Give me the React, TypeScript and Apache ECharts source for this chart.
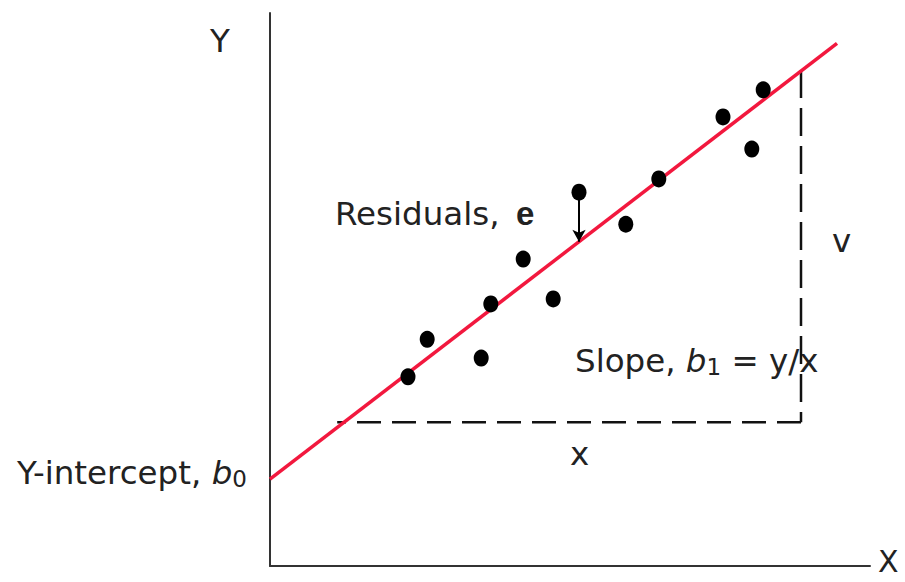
import React, { useEffect, useRef } from "react";
import * as echarts from "echarts";

// Observations (x, y) in plot units
const pointX = [2.3, 2.62, 3.52, 3.68, 4.22, 4.72, 5.15, 5.93, 6.48, 7.55, 8.03, 8.22];
const pointY = [3.42, 4.1, 3.76, 4.74, 5.55, 4.83, 6.76, 6.18, 7.0, 8.12, 7.54, 8.61];

// Fitted regression line endpoints
const fitLine: [number, number][] = [
  [0, 1.57],
  [9.45, 9.45],
];

// Run (x) and rise (y) legs of the slope triangle
const runLeg: [number, number][] = [
  [8.85, 2.6],
  [1.12, 2.6],
];
const riseLeg: [number, number][] = [
  [8.85, 8.97],
  [8.85, 2.6],
];

// Point whose residual is marked with an arrow
const residualIndex = 6;

const FONT = "'DejaVu Sans', Verdana, sans-serif";
const INK = "#222";
const SIZE = 32.5;

function fitAt(x: number): number {
  const [[x0, y0], [x1, y1]] = fitLine;
  return y0 + ((y1 - y0) * (x - x0)) / (x1 - x0);
}

export default function App() {
  const ref = useRef<HTMLDivElement>(null);

  useEffect(() => {
    if (!ref.current) return;
    const chart = echarts.init(ref.current, null, { renderer: "svg" });
    const points = pointX.map((x, i) => [x, pointY[i]]);
    const rx = pointX[residualIndex];
    const ry = pointY[residualIndex];

    const axisCommon = {
      type: "value" as const,
      min: 0,
      max: 10,
      axisLine: { show: true, lineStyle: { color: "#333", width: 2 } },
      axisTick: { show: false },
      axisLabel: { show: false },
      splitLine: { show: false },
    };

    const textStyle = (extra: any = {}) => ({
      fontFamily: FONT,
      fontSize: SIZE,
      fill: INK,
      ...extra,
    });

    const subRich = {
      b: { fontFamily: FONT, fontSize: SIZE, fontStyle: "italic", fill: INK },
      s: { fontFamily: FONT, fontSize: 23, fill: INK, padding: [13, 0, 0, 0] },
    };

    chart.setOption({
      animation: false,
      backgroundColor: "#fff",
      grid: { left: 270, right: 35, top: 13, bottom: 16 },
      xAxis: axisCommon,
      yAxis: axisCommon,
      series: [
        {
          type: "line",
          data: runLeg,
          symbol: "none",
          lineStyle: { color: "#111", width: 2.5, type: [24, 11] },
          z: 1,
        },
        {
          type: "line",
          data: riseLeg,
          symbol: "none",
          lineStyle: { color: "#111", width: 2.5, type: [28, 10] },
          z: 1,
        },
        {
          type: "line",
          data: fitLine,
          symbol: "none",
          lineStyle: { color: "#f2183e", width: 3.5 },
          z: 2,
        },
        {
          type: "scatter",
          data: points,
          symbol: "circle",
          symbolSize: [15, 17],
          itemStyle: { color: "#000", opacity: 1 },
          z: 3,
          markLine: {
            silent: true,
            symbol: ["none", "arrow"],
            symbolSize: [10, 12],
            label: { show: false },
            lineStyle: { color: "#000", width: 2, type: "solid", opacity: 1 },
            data: [[{ coord: [rx, ry] }, { coord: [rx, fitAt(rx)] }]],
          },
        },
      ],
      graphic: [
        {
          type: "text",
          left: 210,
          top: 24,
          style: textStyle({ text: "Y" }),
        },
        {
          type: "text",
          left: 878,
          top: 546,
          style: textStyle({ text: "X", fontSize: 30 }),
        },
        {
          type: "text",
          left: 17,
          top: 456,
          style: textStyle({
            text: "Y-intercept, {b|b}{s|0}",
            rich: subRich,
          }),
        },
        {
          type: "text",
          left: 335,
          top: 197,
          style: textStyle({ text: "Residuals," }),
        },
        {
          type: "text",
          left: 516,
          top: 197,
          style: {
            text: "e",
            fontFamily: "'Liberation Sans', Arial, sans-serif",
            fontWeight: "bold",
            fontSize: 33,
            fill: INK,
          },
        },
        {
          type: "text",
          left: 575,
          top: 344,
          style: textStyle({
            text: "Slope, {b|b}{s|1} = y/x",
            rich: subRich,
          }),
        },
        {
          type: "text",
          left: 570,
          top: 437,
          style: textStyle({ text: "x" }),
        },
        {
          type: "text",
          left: 832,
          top: 224,
          style: textStyle({ text: "v" }),
        },
      ],
    });
    return () => chart.dispose();
  }, []);

  return (
    <div
      ref={ref}
      style={{ position: "fixed", left: 0, top: 0, width: 905, height: 582 }}
    />
  );
}
